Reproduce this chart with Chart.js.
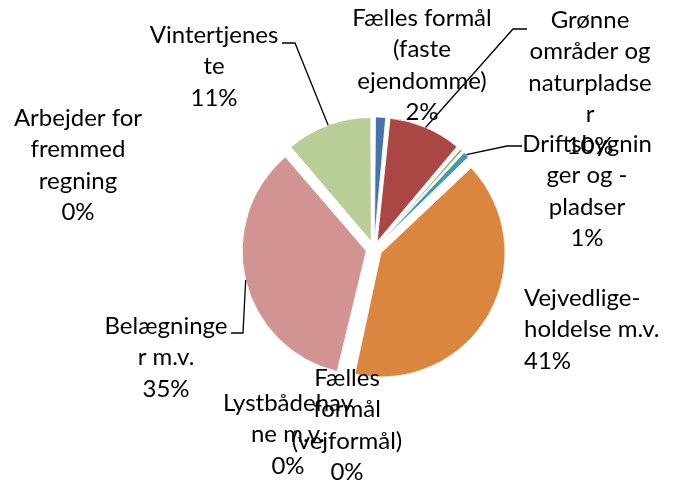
<!DOCTYPE html>
<html>
<head>
<meta charset="utf-8">
<script src="https://cdn.jsdelivr.net/npm/chart.js@4.4.0/dist/chart.umd.min.js"></script>
<style>
  html, body { margin: 0; padding: 0; background: #fff; }
  #wrap { width: 673px; height: 485px; position: relative; }
</style>
</head>
<body>
<div id="wrap"><canvas id="pie"></canvas></div>
<script>
// slices, clockwise from 12 o'clock
var categories = [
  'Fælles formål (faste ejendomme)',
  'Grønne områder og naturpladser',
  '',
  'Driftsbygninger og -pladser',
  'Vejvedligeholdelse m.v.',
  'Fælles formål (vejformål)',
  'Lystbådehavne m.v.',
  'Belægninger m.v.',
  'Arbejder for fremmed regning',
  'Vintertjeneste'
];
// label text as wrapped in the picture
var labelLines = [
  ['Fælles formål', '(faste', 'ejendomme)'],
  ['Grønne', 'områder og', 'naturpladse', 'r'],
  [],
  ['Driftsbygnin', 'ger og -', 'pladser'],
  ['Vejvedlige-', 'holdelse m.v.'],
  ['Fælles', 'formål', '(vejformål)'],
  ['Lystbådehav', 'ne m.v.'],
  ['Belægninge', 'r m.v.'],
  ['Arbejder for', 'fremmed', 'regning'],
  ['Vintertjenes', 'te']
];
var values = [1.6, 9.6, 0.6, 1.1, 40.6, 0.3, 0, 35.0, 0, 11.3];
var sliceColors = ['#4673AA', '#AA4643', '#8CAA52', '#4499B0', '#DB863E',
                   '#95ABD0', '#7D64A0', '#D29393', '#A08CC0', '#B9CD96'];

// label placement (first line centre) and leader elbows
var labelPos = [
  { x: 422, y: 18, align: 'center' },
  { x: 590, y: 20, align: 'center', elbow: [513, 29], end: [527, 29] },
  null,
  { x: 587, y: 144, align: 'center', elbow: [507, 146], end: [522, 146] },
  { x: 524, y: 298, align: 'left' },
  { x: 347, y: 378, align: 'center' },
  { x: 288, y: 403, align: 'center' },
  { x: 166, y: 326, align: 'center', elbow: [243, 333], end: [231, 333] },
  { x: 78, y: 118, align: 'center' },
  { x: 214, y: 35, align: 'center', elbow: [295, 43], end: [282, 43] }
];
var lineGap = 31.5;

var total = values.reduce(function (a, b) { return a + b; }, 0);

// Chart.js grows narrow exploded slices by offset*(1-sin(angle)); undo that so
// every slice keeps the same radius, like the original
var evenRadius = {
  id: 'evenRadius',
  beforeDatasetsDraw: function (chart) {
    chart.getDatasetMeta(0).data.forEach(function (a) {
      if (a.$baseR === undefined) a.$baseR = a.outerRadius;
      var off = (a.options.offset || 0) / 4;
      var fix = 1 - Math.sin(Math.min(Math.PI, a.circumference || 0));
      a.outerRadius = a.$baseR - off * fix;
    });
  }
};

var labelPlugin = {
  id: 'pieLabels',
  afterDatasetsDraw: function (chart) {
    var ctx = chart.ctx;
    var arcs = chart.getDatasetMeta(0).data;
    ctx.save();
    ctx.strokeStyle = '#000';
    ctx.lineWidth = 1.3;
    for (var i = 0; i < arcs.length; i++) {
      var pos = labelPos[i];
      if (!pos) continue;
      if (pos.elbow) {
        var a = arcs[i];
        var mid = (a.startAngle + a.endAngle) / 2;
        var off = (a.options.offset || 0) / 4;   // arc element draws offset/4
        var cx = a.x + Math.cos(mid) * off;
        var cy = a.y + Math.sin(mid) * off;
        var r = a.$baseR !== undefined ? a.$baseR : a.outerRadius;
        var px = cx + Math.cos(mid) * r;
        var py = cy + Math.sin(mid) * r;
        ctx.beginPath();
        ctx.moveTo(px, py);
        ctx.lineTo(pos.elbow[0], pos.elbow[1]);
        ctx.lineTo(pos.end[0], pos.end[1]);
        ctx.stroke();
      }
    }
    ctx.fillStyle = '#000';
    ctx.font = '24px Lato, "Open Sans", sans-serif';
    ctx.textBaseline = 'middle';
    for (var j = 0; j < arcs.length; j++) {
      var p = labelPos[j];
      if (!p) continue;
      var lines = labelLines[j].concat([Math.round(values[j] / total * 100) + '%']);
      ctx.textAlign = p.align;
      for (var k = 0; k < lines.length; k++) {
        ctx.fillText(lines[k], p.x, p.y + k * lineGap);
      }
    }
    ctx.restore();
  }
};

new Chart(document.getElementById('pie'), {
  type: 'pie',
  data: {
    labels: categories,
    datasets: [{
      data: values,
      backgroundColor: sliceColors,
      borderColor: '#ffffff',
      borderWidth: 0.75,
      offset: 32
    }]
  },
  options: {
    responsive: true,
    maintainAspectRatio: false,
    animation: false,
    radius: 124,
    layout: { padding: { top: 109, bottom: 96, left: 174, right: 99 } },
    plugins: {
      legend: { display: false },
      tooltip: { enabled: false }
    }
  },
  plugins: [evenRadius, labelPlugin]
});
</script>
</body>
</html>
